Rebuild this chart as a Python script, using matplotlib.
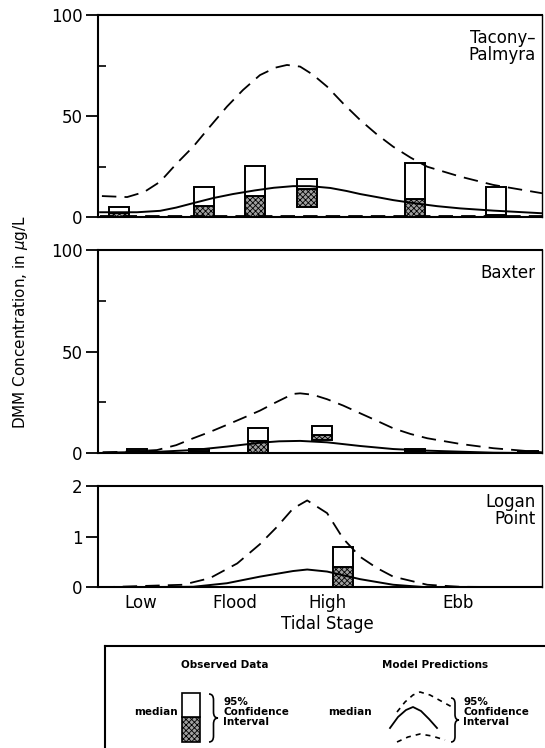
import matplotlib
matplotlib.use("Agg")
import matplotlib.pyplot as plt
from matplotlib.path import Path
from matplotlib.patches import PathPatch, Rectangle

# tidal stage axis, hours into the tidal cycle
stageTicks  = [1.21, 3.86, 6.45, 10.14]
stageLabels = ["Low", "Flood", "High", "Ebb"]

# ---- Tacony-Palmyra ----
tpBarX    = [0.59, 2.99, 4.42, 5.89, 8.93, 11.21]
tpBarLow  = [0.0, 0.0, 0.0, 5.3, 0.0, 0.0]
tpBarMed  = [2.0, 5.8, 10.7, 14.0, 8.9, 1.2]
tpBarHigh = [5.3, 15.0, 25.5, 19.0, 26.9, 15.2]

tpUpX = [0.11, 0.82, 1.30, 1.75, 2.22, 2.68, 3.15, 3.63, 4.08, 4.56, 5.00, 5.32,
         5.69, 6.05, 6.45, 6.90, 7.38, 7.85, 8.31, 8.80, 9.27, 10.20, 11.13, 12.50]
tpUp  = [10.5, 10.0, 12.5, 17.6, 26.7, 34.9, 44.8, 54.7, 62.9, 70.3, 74.0, 75.3,
         74.5, 70.5, 64.6, 56.3, 48.1, 41.0, 34.9, 29.5, 25.0, 20.1, 16.0, 11.9]
tpMedX = [0.06, 1.10, 1.75, 2.20, 2.68, 3.24, 3.80, 4.42, 4.95, 5.49, 5.97, 6.54,
          7.00, 7.38, 7.85, 8.31, 8.93, 9.55, 10.20, 11.13, 12.50]
tpMed  = [2.5, 2.5, 3.2, 4.8, 7.0, 9.5, 11.5, 13.3, 14.6, 15.4, 15.4, 14.5,
          13.0, 11.5, 10.0, 8.5, 6.9, 5.5, 4.4, 3.3, 2.0]
tpLowX = [0.06, 12.50]
tpLow  = [0.4, 0.4]

# ---- Baxter ----
bxBarX    = [1.10, 2.85, 4.51, 6.31, 8.93, 12.10]
bxBarLow  = [0.0, 0.0, 0.0, 6.6, 0.0, 0.0]
bxBarMed  = [1.2, 1.2, 6.1, 9.0, 1.2, 0.5]
bxBarHigh = [2.1, 2.1, 12.6, 13.6, 2.1, 1.0]

bxUpX = [0.14, 0.82, 1.66, 2.20, 2.68, 3.15, 3.63, 4.10, 4.56, 5.00, 5.49, 5.69,
         6.05, 6.45, 6.90, 7.38, 7.85, 8.31, 8.80, 9.27, 10.20, 11.13, 12.08, 12.50]
bxUp  = [0.5, 0.8, 1.6, 4.0, 7.4, 10.5, 14.0, 17.5, 21.0, 25.0, 29.2, 29.5,
         28.8, 26.6, 23.5, 19.7, 16.0, 12.3, 9.5, 7.4, 4.6, 2.5, 1.1, 0.5]
bxMedX = [0.14, 1.75, 2.68, 3.63, 4.56, 5.10, 5.69, 6.45, 7.38, 8.31, 9.27, 11.13, 12.50]
bxMed  = [0.3, 0.8, 1.6, 3.3, 5.2, 5.9, 6.1, 5.4, 3.6, 2.1, 1.3, 0.3, 0.1]
bxLowX = [0.06, 12.50]
bxLow  = [0.1, 0.1]

# ---- Logan Point ----
lpBarX    = [6.89]
lpBarLow  = [0.0]
lpBarMed  = [0.39]
lpBarHigh = [0.79]

lpUpX = [0.06, 2.39, 3.15, 3.92, 4.56, 5.04, 5.49, 5.89, 6.45, 6.90, 7.38, 7.85,
         8.31, 9.27, 10.20, 12.50]
lpUp  = [0.0, 0.05, 0.18, 0.47, 0.85, 1.19, 1.55, 1.71, 1.46, 0.96, 0.60, 0.38,
         0.21, 0.05, 0.01, 0.0]
lpMedX = [0.06, 2.68, 3.63, 4.56, 5.49, 5.89, 6.45, 7.38, 8.31, 9.27, 12.50]
lpMed  = [0.0, 0.01, 0.08, 0.21, 0.32, 0.35, 0.31, 0.16, 0.05, 0.0, 0.0]
lpLowX = [0.06, 12.50]
lpLow  = [0.01, 0.01]

W, H = 545.0, 748.0
barWidth = 0.56
dashes = (8, 4.5)

plt.rcParams["font.family"] = "DejaVu Sans"
plt.rcParams["hatch.linewidth"] = 0.6


def figBox( left, top, right, bottom ):
    """Pixel box -> figure fraction rect."""
    return [left / W, 1 - bottom / H, (right - left) / W, (bottom - top) / H]


def drawPanel( ax, bars, curves, ymax, yticks, minor, label ):

    barX, lows, meds, highs = bars
    medHeights  = [m - l for m, l in zip(meds, lows)]
    highHeights = [h - m for h, m in zip(highs, meds)]

    ax.bar( barX, medHeights, bottom = lows, width = barWidth, facecolor = "#a0a0a0",
            edgecolor = "black", hatch = "xxxxxx", linewidth = 1.4, zorder = 2 )
    ax.bar( barX, highHeights, bottom = meds, width = barWidth, facecolor = "white",
            edgecolor = "black", linewidth = 1.4, zorder = 2 )

    (upX, up), (medX, med), (lowX, low) = curves
    ax.plot( upX, up, "k--", dashes = dashes, linewidth = 1.3, zorder = 3 )
    ax.plot( medX, med, "k-", linewidth = 1.4, zorder = 3 )
    ax.plot( lowX, low, "k--", dashes = dashes, linewidth = 1.3, zorder = 3 )

    ax.set_xlim(0, 12.5)
    ax.set_ylim(0, ymax)
    ax.set_yticks( yticks )
    ax.set_yticks( minor, minor = True )
    ax.tick_params( axis = "y", which = "major", direction = "out", length = 9,
                    width = 1.3, labelsize = 12, pad = 2 )
    ax.tick_params( axis = "y", which = "minor", direction = "in", length = 6, width = 1.2 )
    ax.set_xticks( [] )

    for s in ax.spines.values():
        s.set_linewidth(1.5)
    ax.spines["right"].set_linewidth(1.0)

    ax.text( 0.985, 0.93, label, transform = ax.transAxes, ha = "right", va = "top",
             fontsize = 12, linespacing = 0.95 )


fig = plt.figure( figsize = (W / 100, H / 100), dpi = 100 )

axTop = fig.add_axes( figBox(98, 15, 542, 217.3) )
axMid = fig.add_axes( figBox(98, 250, 542, 453.3) )
axBot = fig.add_axes( figBox(98, 485.7, 542, 587.3) )

drawPanel( axTop, (tpBarX, tpBarLow, tpBarMed, tpBarHigh),
           [(tpUpX, tpUp), (tpMedX, tpMed), (tpLowX, tpLow)],
           100, [0, 50, 100], [25, 75], "Tacony\u2013\nPalmyra" )
drawPanel( axMid, (bxBarX, bxBarLow, bxBarMed, bxBarHigh),
           [(bxUpX, bxUp), (bxMedX, bxMed), (bxLowX, bxLow)],
           100, [0, 50, 100], [25, 75], "Baxter" )
drawPanel( axBot, (lpBarX, lpBarLow, lpBarMed, lpBarHigh),
           [(lpUpX, lpUp), (lpMedX, lpMed), (lpLowX, lpLow)],
           2, [0, 1, 2], [], "Logan\nPoint" )

axBot.set_xticks( stageTicks )
axBot.set_xticklabels( stageLabels, fontsize = 12 )
axBot.tick_params( axis = "x", length = 0, pad = 5 )

fig.text( 327 / W, 1 - 624 / H, "Tidal Stage", ha = "center", va = "center", fontsize = 12 )
fig.text( 21 / W, 1 - 322 / H, r"DMM Concentration, in $\mu$g/L", rotation = 90,
          ha = "center", va = "center", fontsize = 11 )

# ---- legend box, drawn in pixel coordinates ----
lg = fig.add_axes( [0, 0, 1, 1], facecolor = "none" )
lg.set_xlim(0, W)
lg.set_ylim(H, 0)
lg.axis("off")

lg.plot( [105, 545], [646, 646], "k-", linewidth = 1.5 )
lg.plot( [105, 105], [646, 748], "k-", linewidth = 1.5 )

legFont = dict( fontsize = 7.5, fontweight = "bold", va = "center" )
lg.text( 225, 665, "Observed Data", ha = "center", **legFont )
lg.text( 435, 665, "Model Predictions", ha = "center", **legFont )

lg.text( 178, 712, "median", ha = "right", **legFont )
lg.add_patch( Rectangle( (182, 717), 18, 25, facecolor = "#a0a0a0", edgecolor = "black",
                         hatch = "xxxxxx", linewidth = 1.2 ) )
lg.add_patch( Rectangle( (182, 693), 18, 24, facecolor = "white", edgecolor = "black",
                         linewidth = 1.2 ) )


def brace( x0, y0, y1, w ):
    xa = x0 + w / 2.0
    ym = (y0 + y1) / 2.0
    q  = (y1 - y0) / 8.0
    verts = [ (x0, y0), (xa, y0), (xa, y0 + q), (xa, ym - q), (xa, ym), (x0 + w, ym),
              (xa, ym), (xa, ym + q), (xa, y1 - q), (xa, y1), (x0, y1) ]
    codes = [ Path.MOVETO, Path.CURVE3, Path.CURVE3, Path.LINETO, Path.CURVE3, Path.CURVE3,
              Path.CURVE3, Path.CURVE3, Path.LINETO, Path.CURVE3, Path.CURVE3 ]
    lg.add_patch( PathPatch( Path(verts, codes), facecolor = "none", edgecolor = "black",
                             linewidth = 1.2 ) )


brace( 209, 694, 742, 9 )
lg.text( 223, 712, "95%\nConfidence\nInterval", ha = "left", linespacing = 1.05, **legFont )

# model prediction glyph (arched curves)
lg.text( 372, 712, "median", ha = "right", **legFont )
lg.plot( [397, 405, 413, 420, 430, 441, 452], [712, 702, 695, 692, 695, 701, 707],
         "k--", dashes = (3, 3), linewidth = 1.2 )
lg.plot( [390, 398, 406, 413, 421, 429, 437], [728, 717, 710, 707, 711, 719, 728],
         "k-", linewidth = 1.3 )
lg.plot( [397, 408, 420, 432, 445], [742, 737, 734, 736, 740], "k--",
         dashes = (3, 3), linewidth = 1.2 )
brace( 451, 698, 742, 8 )
lg.text( 463, 712, "95%\nConfidence\nInterval", ha = "left", linespacing = 1.05, **legFont )

fig.savefig( "out.png", dpi = 100 )
